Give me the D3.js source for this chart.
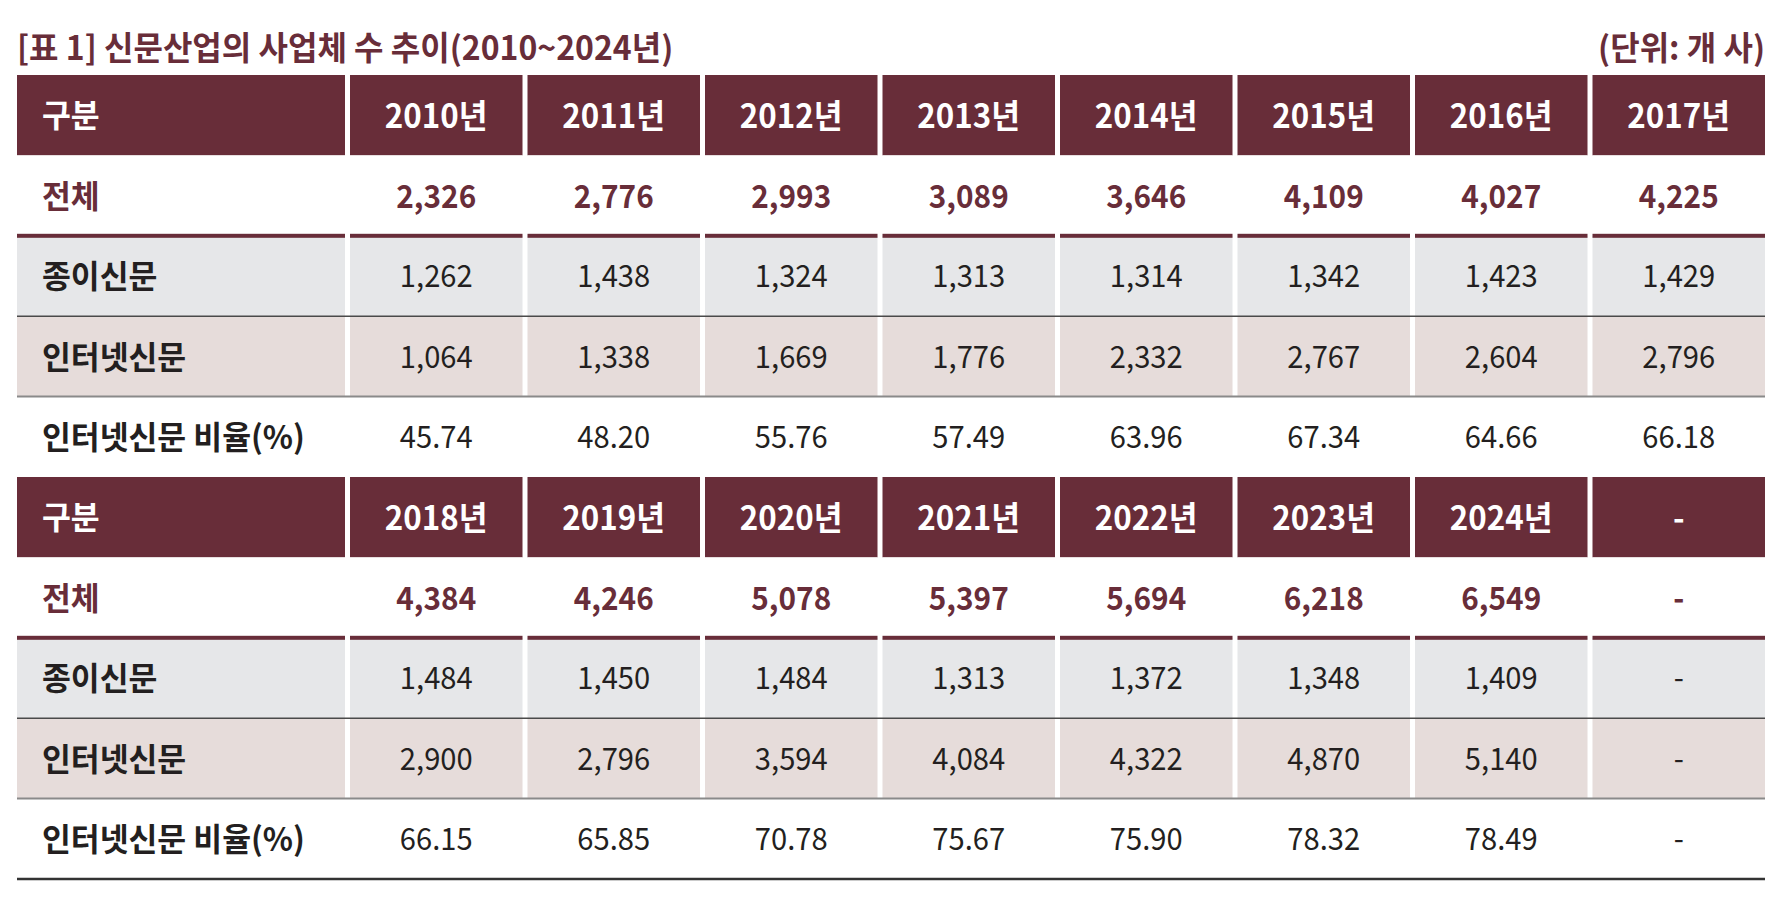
<!DOCTYPE html>
<html>
<head>
<meta charset="utf-8">
<script src="https://cdn.jsdelivr.net/npm/d3@7"></script>
<style>
  html, body { margin: 0; padding: 0; background: #fff; }
  svg text { font-family: "Noto Sans CJK KR", "Noto Sans", sans-serif; }
</style>
</head>
<body>
<svg id="table"></svg>
<script>
// 신문산업의 사업체 수 (단위: 개 사)
var years = ["2010", "2011", "2012", "2013", "2014", "2015", "2016", "2017",
             "2018", "2019", "2020", "2021", "2022", "2023", "2024"]
var total = ["2,326", "2,776", "2,993", "3,089", "3,646", "4,109", "4,027", "4,225",
             "4,384", "4,246", "5,078", "5,397", "5,694", "6,218", "6,549"]
var paper = ["1,262", "1,438", "1,324", "1,313", "1,314", "1,342", "1,423", "1,429",
             "1,484", "1,450", "1,484", "1,313", "1,372", "1,348", "1,409"]
var internet = ["1,064", "1,338", "1,669", "1,776", "2,332", "2,767", "2,604", "2,796",
                "2,900", "2,796", "3,594", "4,084", "4,322", "4,870", "5,140"]
var ratio = ["45.74", "48.20", "55.76", "57.49", "63.96", "67.34", "64.66", "66.18",
             "66.15", "65.85", "70.78", "75.67", "75.90", "78.32", "78.49"]
var rowLabels = ["구분", "전체", "종이신문", "인터넷신문", "인터넷신문 비율(%)"]
var title = "[표 1] 신문산업의 사업체 수 추이(2010~2024년)"
var unit = "(단위: 개 사)"

var width = 1787
var height = 912
var maroon = "#682d39"
var ink = "#231f20"
var gap = 5
var perBlock = 8

const svg = d3.select("#table")
  .attr("width", width)
  .attr("height", height)
  .attr("viewBox", [0, 0, width, height])

// text helper: slightly condensed glyphs like the original typeface
function label(parent, px, py, str, opts) {
  return parent.append("text")
    .attr("transform", `translate(${px},${py}) scale(${opts.sx || 1},1)`)
    .attr("dominant-baseline", "central")
    .attr("text-anchor", opts.anchor || "start")
    .attr("fill", opts.fill)
    .style("font-size", opts.size + "px")
    .style("font-weight", opts.weight)
    .text(str)
}

// title and unit
label(svg, 17, 45, title, { fill: maroon, size: 33, weight: 700, sx: 0.97 })
label(svg, 1765, 45, unit, { fill: maroon, size: 33, weight: 700, anchor: "end", sx: 0.97 })

// build two blocks of 8 columns, second padded with "-"
function block(b) {
  var cols = d3.range(perBlock).map(i => b * perBlock + i)
  var pick = (arr, suffix) => cols.map(i => i < arr.length ? arr[i] + (suffix || "") : "-")
  return [pick(years, "년"), pick(total), pick(paper), pick(internet), pick(ratio)]
}
var rows = block(0).concat(block(1))

var left = 17, labelRight = 345, right = 1765

var x = d3.scaleBand()
  .domain(d3.range(perBlock))
  .range([labelRight + gap, right + gap])

var y = d3.scaleBand()
  .domain(d3.range(rows.length))
  .range([75, 879])

var fills = ["header", "white", "gray", "pink", "white"]
var fillColor = { header: maroon, white: "#ffffff", gray: "#e6e7e9", pink: "#e6dcda" }

rows.forEach((cells, r) => {
  var kind = r % 5
  var g = svg.append("g")
  var col = fillColor[fills[kind]]
  var y0 = y(r), h = y.bandwidth()
  var cy = y0 + h / 2 - 2

  // label cell
  g.append("rect")
    .attr("x", left).attr("y", y0)
    .attr("width", labelRight - left).attr("height", h)
    .attr("fill", col)

  g.selectAll("rect.cell")
    .data(cells)
    .join("rect")
      .attr("class", "cell")
      .attr("x", (d, i) => x(i))
      .attr("y", y0)
      .attr("width", x.bandwidth() - gap)
      .attr("height", h)
      .attr("fill", col)

  var txtColor = kind == 0 ? "#ffffff" : kind == 1 ? maroon : ink

  label(g, 42, cy, rowLabels[kind], { fill: txtColor, size: 32, weight: 700, sx: 0.98 })

  cells.forEach((d, i) => {
    var cx = x(i) + (x.bandwidth() - gap) / 2
    if (kind == 0) label(g, cx, cy, d, { fill: txtColor, size: 33, weight: 700, anchor: "middle", sx: 0.95 })
    else if (kind == 1) label(g, cx, cy, d, { fill: txtColor, size: 32, weight: 700, anchor: "middle", sx: 0.93 })
    else label(g, cx, cy, d, { fill: txtColor, size: 31, weight: 400, anchor: "middle", sx: 0.94 })
  })
})

// rules under rows
rows.forEach((cells, r) => {
  var kind = r % 5
  var yb = y(r) + y.bandwidth()
  if (kind == 1) {
    // thick maroon rule, broken at column gaps
    var segs = [[left, labelRight]].concat(d3.range(perBlock).map(i => [x(i), x(i) + x.bandwidth() - gap]))
    svg.append("g").selectAll("rect")
      .data(segs)
      .join("rect")
        .attr("x", d => d[0]).attr("y", yb - 2)
        .attr("width", d => d[1] - d[0]).attr("height", 4)
        .attr("fill", maroon)
  } else if (kind == 2) {
    svg.append("line")
      .attr("x1", left).attr("x2", right)
      .attr("y1", yb).attr("y2", yb)
      .attr("stroke", "#4a4a4a").attr("stroke-width", 1.5)
  } else if (kind == 3) {
    svg.append("line")
      .attr("x1", left).attr("x2", right)
      .attr("y1", yb).attr("y2", yb)
      .attr("stroke", "#8a8a8a").attr("stroke-width", 2)
  } else if (kind == 4 && r == rows.length - 1) {
    svg.append("line")
      .attr("x1", left).attr("x2", right)
      .attr("y1", yb).attr("y2", yb)
      .attr("stroke", "#333333").attr("stroke-width", 2.5)
  }
})
</script>
</body>
</html>
